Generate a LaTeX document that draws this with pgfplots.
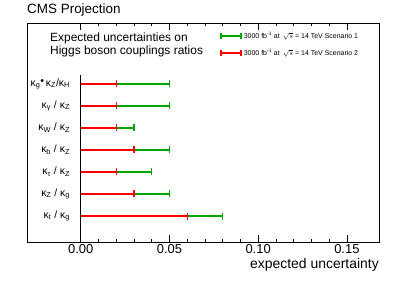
\documentclass[border=0pt]{standalone}
\usepackage{fontspec}
\setmainfont{Liberation Sans}
\usepackage{pgfplots}
\pgfplotsset{compat=1.18}
\definecolor{cmsgreen}{RGB}{0,165,0}
\definecolor{cmsred}{RGB}{255,0,0}
\begin{document}
\begin{tikzpicture}
\useasboundingbox (0,0) rectangle (399bp,286bp);
\begin{axis}[
  at={(27.5bp,44bp)}, anchor=south west,
  scale only axis, width=352bp, height=219bp,
  xmin=-0.03, xmax=0.1684, ymin=-0.1818, ymax=9.7727,
  axis line style={line width=0.8pt},
  xtick={0,0.05,0.1,0.15},
  minor x tick num=4,
  tick align=inside,
  major tick length=7bp, minor tick length=3.5bp,
  every tick/.style={black, line width=0.5pt},
  xticklabel style={/pgf/number format/fixed, /pgf/number format/fixed zerofill, /pgf/number format/precision=2, /pgf/number format/assume math mode=true, font=\fontsize{13}{15}\selectfont, yshift=1bp},
  ytick={1,2,3,4,5,6,7},
  yticklabels={{κ\textsubscript{t} / κ\textsubscript{g}},{κ\textsubscript{Z} / κ\textsubscript{g}},{κ\textsubscript{τ} / κ\textsubscript{Z}},{κ\textsubscript{b} / κ\textsubscript{Z}},{κ\textsubscript{W} / κ\textsubscript{Z}},{κ\textsubscript{γ} / κ\textsubscript{Z}},{κ\textsubscript{g}\raisebox{0.25ex}{•}\,κ\textsubscript{Z}/κ\textsubscript{H}}},
  yticklabel style={font=\fontsize{10.5}{12}\selectfont, anchor=east, xshift=46bp},
  ytick style={draw=none},
  clip=false,
  legend style={draw=none, fill=none, at={(axis description cs:0.547,0.9017)}, anchor=west,
    font=\fontsize{7}{8}\selectfont, row sep=5bp, inner sep=0pt, cells={anchor=west},
    nodes={inner sep=2bp}},
  legend cell align=left,
]
% vertical line at x = 0
\addplot[black, line width=0.8pt, forget plot] coordinates {(0,-0.1818) (0,7.41)};
% Scenario 1 (green)
\addplot[xcomb, draw=cmsgreen, color=cmsgreen, line width=1.5bp, mark=|, mark size=3.5bp, mark options={line width=1.2bp, draw=cmsgreen},
  legend image code/.code={
    \draw[cmsgreen, line width=1.6bp] (0bp,0bp) -- (20bp,0bp);
    \draw[cmsgreen, line width=1.2bp] (0bp,-3bp) -- (0bp,3bp);
    \draw[cmsgreen, line width=1.2bp] (20bp,-3bp) -- (20bp,3bp);}
] table[x=x,y=y] {
x y
0.05 7
0.05 6
0.03 5
0.05 4
0.04 3
0.05 2
0.08 1
};
\addlegendentry{3000 fb\textsuperscript{-1} at \,$\sqrt{s}$ = 14 TeV Scenario 1}
% Scenario 2 (red)
\addplot[xcomb, draw=cmsred, color=cmsred, line width=1.5bp, mark=|, mark size=3.5bp, mark options={line width=1.2bp, draw=cmsred},
  legend image code/.code={
    \draw[cmsred, line width=1.6bp] (0bp,0bp) -- (20bp,0bp);
    \draw[cmsred, line width=1.2bp] (0bp,-3bp) -- (0bp,3bp);
    \draw[cmsred, line width=1.2bp] (20bp,-3bp) -- (20bp,3bp);}
] table[x=x,y=y] {
x y
0.02 7
0.02 6
0.02 5
0.03 4
0.02 3
0.03 2
0.06 1
};
\addlegendentry{3000 fb\textsuperscript{-1} at \,$\sqrt{s}$ = 14 TeV Scenario 2}
\end{axis}
\node[anchor=base west, inner sep=0pt, font=\fontsize{13.5}{16}\selectfont] at (27bp,272bp) {CMS Projection};
\node[anchor=base west, inner sep=0pt, font=\fontsize{12}{14}\selectfont] at (50bp,244bp) {Expected uncertainties on};
\node[anchor=base west, inner sep=0pt, font=\fontsize{12}{14}\selectfont] at (50bp,231bp) {Higgs boson couplings ratios};
\node[anchor=base east, inner sep=0pt, font=\fontsize{14}{16}\selectfont] at (379bp,18bp) {expected uncertainty};
\end{tikzpicture}
\end{document}
